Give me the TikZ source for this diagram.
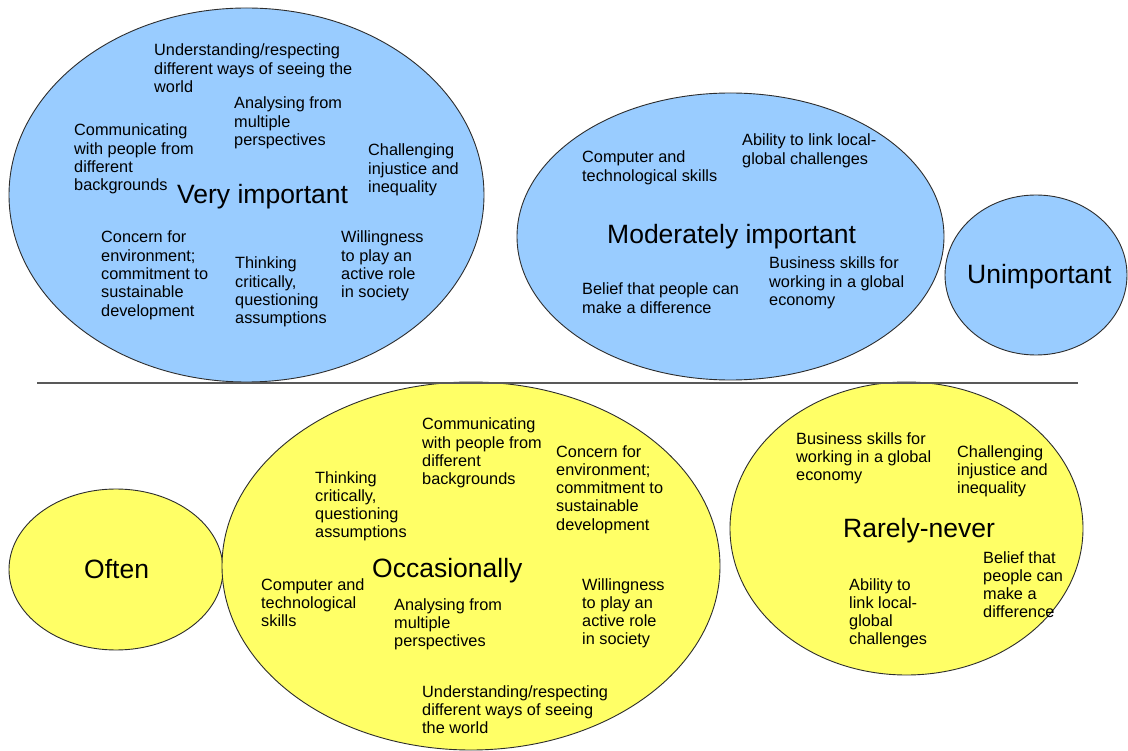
\documentclass[tikz,border=0pt]{standalone}
\usepackage{fontspec}
\setmainfont{Liberation Sans}
\usetikzlibrary{shapes.geometric}
\newcommand{\mlines}[1]{\begin{tabular}[t]{@{}l@{}}#1\end{tabular}}
\definecolor{bluefill}{RGB}{153,204,255}
\definecolor{yellowfill}{RGB}{255,255,102}
\definecolor{rimcol}{RGB}{45,45,45}
\begin{document}
\begin{tikzpicture}[x=1pt,y=-1pt,
  blob/.style={ellipse, draw=rimcol, line width=0.9pt, inner sep=0pt},
  blueblob/.style={blob, fill=bluefill},
  yellowblob/.style={blob, fill=yellowfill},
  txt/.style={anchor=base west, inner sep=0pt, font=\fontsize{16.3}{18.3}\selectfont},
  bigtxt/.style={anchor=base west, inner sep=0pt, font=\fontsize{26.5}{30}\selectfont}]
\useasboundingbox[fill=white] (0,0) rectangle (1128,751);
% ellipses
\node[blueblob, minimum width=475pt, minimum height=374pt] (veryimp) at (246.5,195) {};
\node[blueblob, minimum width=427pt, minimum height=287pt] (modimp) at (730.5,236.5) {};
\node[blueblob, minimum width=182pt, minimum height=160pt] (unimp) at (1036,275) {};
\node[yellowblob, minimum width=214pt, minimum height=161pt] (often) at (116,569.5) {};
\node[yellowblob, minimum width=498pt, minimum height=368pt] (occas) at (471,566) {};
\node[yellowblob, minimum width=353pt, minimum height=293pt] (rarely) at (906.5,528.5) {};
% divider
\coordinate (divL) at (37,383);
\coordinate (divR) at (1078,383);
\draw[gray!70!black, line width=1.3pt] (divL) -- (divR);
% Very important
\node[bigtxt] (vilab) at (177,204) {Very important};
\node[txt] (vi1) at (154,56) {\mlines{Understanding/respecting\\different ways of seeing the\\world}};
\node[txt] (vi2) at (234,109) {\mlines{Analysing from\\multiple\\perspectives}};
\node[txt] (vi3) at (74,136) {\mlines{Communicating\\with people from\\different\\backgrounds}};
\node[txt] (vi4) at (368,156) {\mlines{Challenging\\injustice and\\inequality}};
\node[txt] (vi5) at (101,243) {\mlines{Concern for\\environment;\\commitment to\\sustainable\\development}};
\node[txt] (vi6) at (235,269) {\mlines{Thinking\\critically,\\questioning\\assumptions}};
\node[txt] (vi7) at (341,243) {\mlines{Willingness\\to play an\\active role\\in society}};
% Moderately important
\node[bigtxt] (milab) at (607,244) {Moderately important};
\node[txt] (mi1) at (582,163) {\mlines{Computer and\\technological skills}};
\node[txt] (mi2) at (742,146) {\mlines{Ability to link local-\\global challenges}};
\node[txt] (mi3) at (769,269) {\mlines{Business skills for\\working in a global\\economy}};
\node[txt] (mi4) at (582,295) {\mlines{Belief that people can\\make a difference}};
% Unimportant
\node[bigtxt] (unlab) at (967,284) {Unimportant};
% Often
\node[bigtxt] (oflab) at (84,578) {Often};
% Occasionally
\node[bigtxt] (oclab) at (372,577) {Occasionally};
\node[txt] (oc1) at (422,430) {\mlines{Communicating\\with people from\\different\\backgrounds}};
\node[txt] (oc2) at (556,457) {\mlines{Concern for\\environment;\\commitment to\\sustainable\\development}};
\node[txt] (oc3) at (315,483) {\mlines{Thinking\\critically,\\questioning\\assumptions}};
\node[txt] (oc4) at (261,590) {\mlines{Computer and\\technological\\skills}};
\node[txt] (oc5) at (394,610) {\mlines{Analysing from\\multiple\\perspectives}};
\node[txt] (oc6) at (582,590) {\mlines{Willingness\\to play an\\active role\\in society}};
\node[txt] (oc7) at (422,697) {\mlines{Understanding/respecting\\different ways of seeing\\the world}};
% Rarely-never
\node[bigtxt] (rnlab) at (843,537) {Rarely-never};
\node[txt] (rn1) at (796,444) {\mlines{Business skills for\\working in a global\\economy}};
\node[txt] (rn2) at (957,457) {\mlines{Challenging\\injustice and\\inequality}};
\node[txt] (rn3) at (983,563) {\mlines{Belief that\\people can\\make a\\difference}};
\node[txt] (rn4) at (849,590) {\mlines{Ability to\\link local-\\global\\challenges}};
\end{tikzpicture}
\end{document}
